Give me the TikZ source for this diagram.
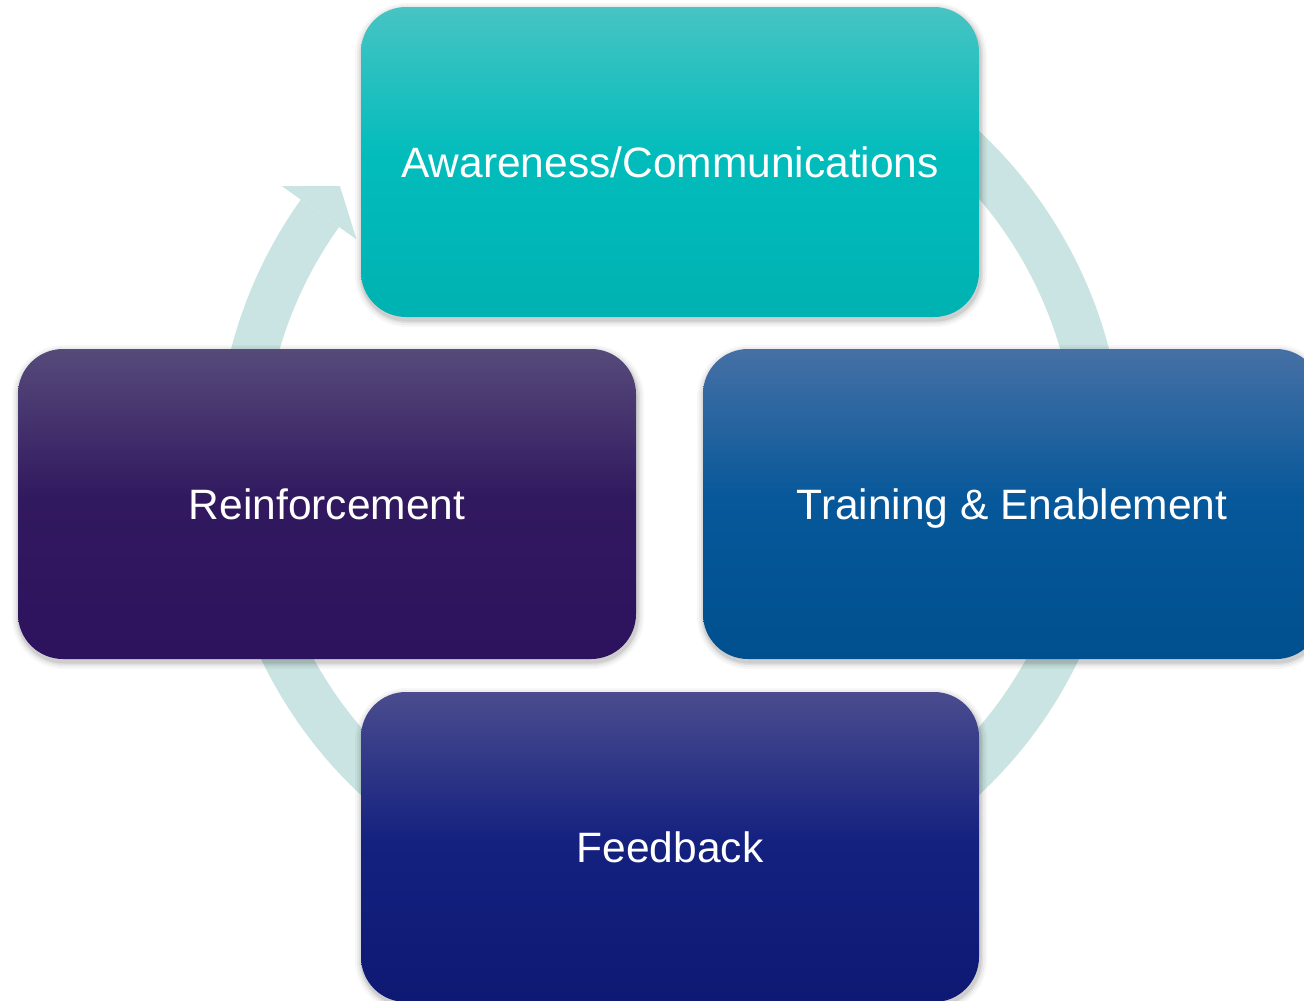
\documentclass[tikz,border=0pt]{standalone}
\usepackage{fontspec}
\setmainfont{Liberation Sans}
\usetikzlibrary{calc}
\definecolor{ringc}{HTML}{C9E4E2}
\definecolor{awT}{HTML}{46C4C3}\definecolor{awM}{HTML}{02BCBC}\definecolor{awB}{HTML}{00B2B2}
\definecolor{reT}{HTML}{564A7A}\definecolor{reM}{HTML}{31195F}\definecolor{reB}{HTML}{2D125E}
\definecolor{trT}{HTML}{4670A5}\definecolor{trM}{HTML}{07589A}\definecolor{trB}{HTML}{00508F}
\definecolor{feT}{HTML}{4A4C8E}\definecolor{feM}{HTML}{14217F}\definecolor{feB}{HTML}{0D1973}
\pgfdeclareverticalshading{awS}{100bp}{color(0bp)=(awB); color(25bp)=(awB); color(51bp)=(awM); color(75bp)=(awT); color(100bp)=(awT)}
\pgfdeclareverticalshading{reS}{100bp}{color(0bp)=(reB); color(25bp)=(reB); color(51bp)=(reM); color(75bp)=(reT); color(100bp)=(reT)}
\pgfdeclareverticalshading{trS}{100bp}{color(0bp)=(trB); color(25bp)=(trB); color(51bp)=(trM); color(75bp)=(trT); color(100bp)=(trT)}
\pgfdeclareverticalshading{feS}{100bp}{color(0bp)=(feB); color(25bp)=(feB); color(51bp)=(feM); color(75bp)=(feT); color(100bp)=(feT)}
\newcommand\mysoftshadow[4]{%
  \foreach \e/\o in {7/0.03,5/0.04,3/0.06,1.5/0.08}{%
    \pgfmathsetmacro\rc{45+\e}%
    \fill[black,opacity=\o,rounded corners=\rc pt] (#1+1-\e,#2+3-\e) rectangle (#3+1+\e,#4+3+\e);
  }}
\tikzset{
  cyclebox/.style={rounded corners=45pt, minimum width=618pt, minimum height=310pt,
    inner sep=0pt, text height=30pt, text depth=0pt, text=white,
    font=\fontsize{42.5}{50}\selectfont},
}
\begin{document}
\begin{tikzpicture}[x=1pt,y=-1pt]
\useasboundingbox (0,0) rectangle (1304,1001);
\clip (0,0) rectangle (1304,1001);
\coordinate (C) at (670,463);
% cycle ring
\fill[ringc] ($(C)+(-120:453.5)$) arc[start angle=-120, end angle=215.5, radius=453.5]
  -- ($(C)+(215.5:406.5)$) arc[start angle=215.5, end angle=-120, radius=406.5] -- cycle;
\fill[ringc] ($(C)+(215.5:477)$) -- ($(C)+(220:431)$) -- ($(C)+(215.5:385)$) -- cycle;
% shadows
\mysoftshadow{361}{7}{979}{317}
\mysoftshadow{18}{349}{636}{659}
\mysoftshadow{703}{349}{1321}{659}
\mysoftshadow{361}{692}{979}{1002}
% boxes
\node[cyclebox, shading=awS] (aw) at (670,162) {Awareness/Communications};
\node[cyclebox, shading=reS] (re) at (327,504) {Reinforcement};
\node[cyclebox, shading=trS] (tr) at (1012,504) {Training \& Enablement};
\node[cyclebox, shading=feS] (fe) at (670,847) {Feedback};
\end{tikzpicture}
\end{document}
